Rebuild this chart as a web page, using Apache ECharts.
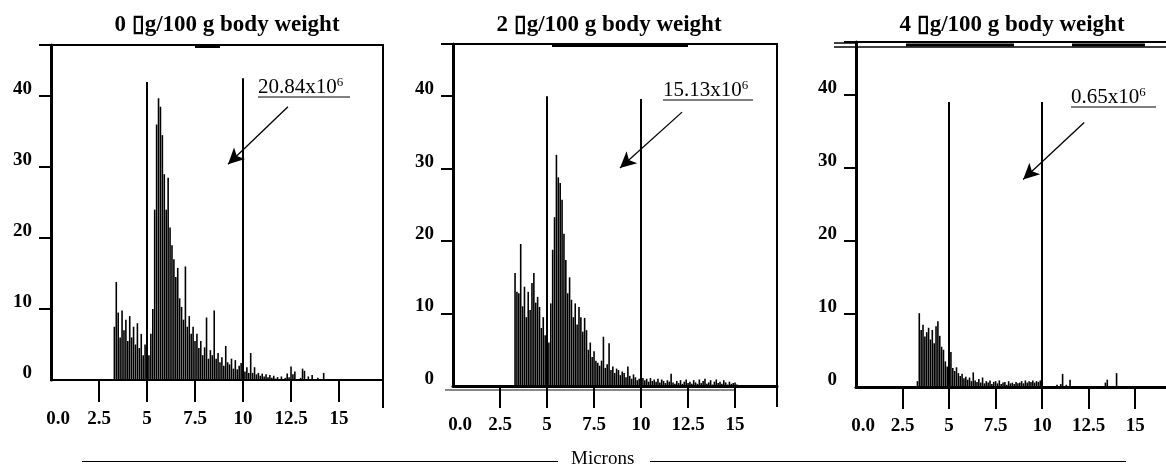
<!DOCTYPE html>
<html>
<head>
<meta charset="utf-8">
<script src="https://cdn.jsdelivr.net/npm/echarts@6/dist/echarts.min.js"></script>
<style>
  html, body { margin: 0; padding: 0; background: #fff; }
  #chart { width: 1166px; height: 467px; }
</style>
</head>
<body>
<div id="chart"></div>
<script>
// Cell size distributions (counts per 0.1-micron channel) for three doses.
const BIN_STEP = 0.1;

const panelTitles = [
  '0 \u25AFg/100 g body weight',
  '2 \u25AFg/100 g body weight',
  '4 \u25AFg/100 g body weight'
];
const cellTotals = ['20.84', '15.13', '0.65'];

const xTickValues = [2.5, 5, 7.5, 10, 12.5, 15];
const xLabelValues = [0, 2.5, 5, 7.5, 10, 12.5, 15];
const yLabelValues = [0, 10, 20, 30, 40];

// 0 ug dose, channels from 3.3 microns
const dose0Start = 3.3;
const dose0Counts = [
  7.5, 13.8, 9.5, 6.0, 9.8, 7.0, 8.5, 5.5, 9.0, 6.0,
  7.5, 5.0, 8.0, 4.5, 6.5, 3.5, 5.0, 2.5, 3.5, 6.5,
  10.0, 24.0, 36.0, 39.7, 38.5, 34.5, 29.0, 24.0, 28.5, 21.5,
  19.0, 17.0, 14.5, 15.8, 11.5, 10.3, 8.5, 16.0, 7.5, 9.0,
  6.5, 7.5, 5.5, 6.5, 4.5, 5.5, 3.5, 4.6, 8.8, 3.0,
  4.2, 3.5, 9.8, 3.0, 3.8, 2.5, 3.2, 2.0, 4.8, 2.5,
  2.2, 3.0, 1.6, 2.8, 1.5, 2.0, 2.4, 1.5, 1.2, 1.8,
  1.0, 3.8, 1.0, 1.8, 0.8, 1.0, 0.6, 0.9, 0.5, 0.8,
  0.4, 0.7, 0.3, 0.6, 0.2, 0.4, 0.0, 0.5, 0.0, 0.3,
  0.9, 0.4, 1.9, 0.8, 1.2, 0.0, 0.0, 0.3, 1.6, 1.3,
  0.0, 0.5, 0.0, 0.7, 0.0, 0.0, 0.3, 0.0, 0.0, 1.0
];

// 2 ug dose, channels from 3.3 microns
const dose2Start = 3.3;
const dose2Counts = [
  15.6, 13.0, 12.8, 19.6, 11.0, 13.7, 9.5, 13.0, 10.5, 14.2,
  15.6, 11.5, 12.3, 10.9, 8.0, 9.5, 7.0, 8.5, 6.0, 11.4,
  18.8, 23.3, 31.9, 28.8, 28.0, 25.7, 21.0, 17.4, 12.8, 15.0,
  11.9, 9.5, 11.4, 8.5, 10.9, 9.5, 7.5, 9.4, 7.7, 5.0,
  6.0, 4.0, 4.8, 3.5, 3.2, 2.8, 3.5, 6.8, 2.5, 3.0,
  5.9, 2.2, 2.7, 1.8, 2.4, 2.2, 1.5, 2.0, 1.8, 1.2,
  2.7, 1.4, 1.0, 1.6, 1.2, 0.8, 1.0, 0.9, 1.1, 0.8,
  1.0, 0.6, 1.1, 0.7, 0.9, 0.6, 1.0, 0.5, 0.9, 0.7,
  0.4, 0.8, 0.6, 1.7, 0.5, 0.3, 0.7, 0.4, 0.8, 0.3,
  0.6, 0.9, 0.4, 0.6, 0.3, 0.8, 0.5, 0.3, 0.9, 0.4,
  0.7, 1.0, 0.3, 0.5, 0.8, 0.2, 0.6, 0.9, 0.4, 0.6,
  0.3, 0.8, 0.5, 0.2, 0.6, 0.3, 0.4, 0.5, 0.2
];

// 4 ug dose, channels from 3.3 microns
const dose4Start = 3.3;
const dose4Counts = [
  0.8, 10.1, 7.8, 8.5, 6.9, 7.5, 8.1, 6.5, 7.8, 6.0,
  8.3, 9.0, 7.0, 5.5, 5.1, 3.5, 2.8, 3.0, 4.8, 2.6,
  2.2, 2.7, 1.9, 1.5, 1.8, 1.2, 1.4, 1.0, 1.3, 0.8,
  2.0, 0.9, 0.7, 1.1, 0.6, 1.3, 0.5, 0.8, 0.6, 0.9,
  0.4, 0.7, 0.8, 0.5, 0.9, 0.4, 0.6, 0.7, 0.3, 0.8,
  0.5, 0.6, 0.4, 0.7, 0.5, 0.6, 0.8, 0.5, 0.9, 0.6,
  0.8, 0.7, 0.9, 0.6, 0.8, 0.7, 0.9, 0.5, 0.0, 0.0,
  0.0, 0.0, 0.0, 0.0, 0.0, 0.3, 0.0, 0.4, 1.8, 0.0,
  0.3, 0.0, 1.0, 0.0, 0.0, 0.0, 0.0, 0.0, 0.0, 0.0,
  0.0, 0.0, 0.0, 0.0, 0.0, 0.0, 0.0, 0.0, 0.0, 0.0,
  0.0, 0.6, 1.0, 0.0, 0.0, 0.0, 0.0, 1.9
];

// Gate lines at 5 and 10 microns: [top at 5, top at 10] in count units
const gateTops = [[42, 42.5], [40, 39.6], [39, 39]];
// Arrow from the total label down into the gated region: [x0, y0, x1, y1]
const arrowCoords = [
  [12.34, 38.5, 9.22, 30.4],
  [12.18, 37.8, 8.88, 30.1],
  [12.26, 36.2, 8.98, 28.4]
];

const doseStarts = [dose0Start, dose2Start, dose4Start];
const doseCounts = [dose0Counts, dose2Counts, dose4Counts];

const SERIF = '"Liberation Serif", "Times New Roman", serif';

const grids = [
  { left: 51, top: 45, width: 332, height: 335, xMax: 17.29, titleX: 222 },
  { left: 453, top: 44, width: 324, height: 342, xMax: 17.23, titleX: 604 },
  { left: 856, top: 42, width: 322, height: 345, xMax: 17.3, titleX: 1007 }
];
const Y_MAX = 47.2;

function toPoints(start, counts) {
  return counts.map((v, i) => [Math.round((start + i * BIN_STEP) * 100) / 100, v]);
}

const chart = echarts.init(document.getElementById('chart'), null, { renderer: 'canvas' });

const option = {
  animation: false,
  backgroundColor: '#fff',
  title: grids.map((g, i) => ({
    text: panelTitles[i],
    left: g.titleX,
    top: 9,
    textAlign: 'center',
    textStyle: { fontFamily: SERIF, fontWeight: 'bold', fontSize: 23, color: '#000' }
  })),
  grid: grids.map(g => ({
    left: g.left, top: g.top, width: g.width, height: g.height,
    outerBoundsMode: 'none',
    containLabel: false,
    show: true, borderColor: '#000', borderWidth: 2, backgroundColor: 'transparent'
  })),
  xAxis: grids.map((g, i) => ({
    gridIndex: i,
    type: 'value',
    min: 0,
    max: g.xMax,
    axisLine: { show: true, onZero: false, lineStyle: { color: '#000', width: i === 0 ? 2 : 3 } },
    axisTick: { show: true, customValues: xTickValues, length: 22, lineStyle: { color: '#000', width: 2 } },
    axisLabel: {
      customValues: xLabelValues,
      margin: 30,
      color: '#000',
      fontFamily: SERIF,
      fontWeight: 'bold',
      fontSize: 19,
      formatter: v => (v === 0 ? '{z|0.0}' : String(v)),
      rich: {
        z: { fontFamily: SERIF, fontWeight: 'bold', fontSize: 19, color: '#000', padding: [0, 0, 0, 14] }
      }
    },
    splitLine: { show: false }
  })),
  yAxis: grids.map((g, i) => ({
    gridIndex: i,
    type: 'value',
    min: 0,
    max: Y_MAX,
    axisLine: { show: true, lineStyle: { color: '#000', width: 3 } },
    axisTick: { show: true, customValues: [10, 20, 30, 40, Y_MAX], length: 12, lineStyle: { color: '#000', width: 2 } },
    axisLabel: {
      customValues: yLabelValues,
      margin: 19,
      color: '#000',
      fontFamily: SERIF,
      fontWeight: 'bold',
      fontSize: 19,
      verticalAlign: 'bottom',
      lineHeight: 14
    },
    splitLine: { show: false }
  })),
  series: grids.map((g, i) => {
    const a = arrowCoords[i];
    return {
      type: 'bar',
      xAxisIndex: i,
      yAxisIndex: i,
      data: toPoints(doseStarts[i], doseCounts[i]),
      barWidth: 1.6,
      itemStyle: { color: '#000' },
      emphasis: { disabled: true },
      markLine: {
        silent: true,
        animation: false,
        symbol: ['none', 'none'],
        label: { show: false },
        lineStyle: { color: '#000', width: 2, type: 'solid' },
        data: [
          [{ coord: [5, 0] }, { coord: [5, gateTops[i][0]] }],
          [{ coord: [10, 0] }, { coord: [10, gateTops[i][1]] }],
          [
            { coord: [a[0], a[1]], symbol: 'none', lineStyle: { width: 1.3, color: '#000', type: 'solid' } },
            { coord: [a[2], a[3]], symbol: 'arrow', symbolSize: [12, 16] }
          ]
        ]
      }
    };
  }),
  graphic: []
};

// Total-count labels above each gate, underlined
const totalLabelPos = [
  { x: 258, y: 76, underY: 97, underX2: 350 },
  { x: 663, y: 79, underY: 100, underX2: 753 },
  { x: 1071, y: 86, underY: 107, underX2: 1156 }
];
totalLabelPos.forEach((p, i) => {
  option.graphic.push({
    type: 'text',
    left: p.x,
    top: p.y,
    style: {
      text: '{m|' + cellTotals[i] + 'x10}{s|6}',
      rich: {
        m: { fontFamily: SERIF, fontSize: 21, fill: '#000', lineHeight: 22 },
        s: { fontFamily: SERIF, fontSize: 13, fill: '#000', verticalAlign: 'top', lineHeight: 22 }
      }
    }
  });
  option.graphic.push({
    type: 'line',
    shape: { x1: p.x, y1: p.underY, x2: p.underX2, y2: p.underY },
    style: { stroke: '#000', lineWidth: 1 }
  });
});

// Shared x-axis title with rules on both sides
option.graphic.push(
  {
    type: 'text', left: 571, top: 450,
    style: { text: 'Microns', fontFamily: SERIF, fontSize: 19, fill: '#000' }
  },
  { type: 'line', shape: { x1: 82, y1: 461.5, x2: 558, y2: 461.5 }, style: { stroke: '#000', lineWidth: 1 } },
  { type: 'line', shape: { x1: 650, y1: 461.5, x2: 1126, y2: 461.5 }, style: { stroke: '#000', lineWidth: 1 } },
  // frame edges running past the baseline
  { type: 'line', shape: { x1: 383, y1: 380, x2: 383, y2: 408 }, style: { stroke: '#000', lineWidth: 2 } },
  { type: 'line', shape: { x1: 777, y1: 386, x2: 777, y2: 407 }, style: { stroke: '#000', lineWidth: 2 } },
  { type: 'line', shape: { x1: 834, y1: 43, x2: 856, y2: 43 }, style: { stroke: '#000', lineWidth: 1.5 } },
  { type: 'line', shape: { x1: 834, y1: 47, x2: 1166, y2: 47 }, style: { stroke: '#000', lineWidth: 1.5 } },
  // heavier stretches along the top frames
  { type: 'line', shape: { x1: 195, y1: 46.5, x2: 220, y2: 46.5 }, style: { stroke: '#000', lineWidth: 3 } },
  { type: 'line', shape: { x1: 552, y1: 45.5, x2: 688, y2: 45.5 }, style: { stroke: '#000', lineWidth: 3 } },
  { type: 'line', shape: { x1: 906, y1: 45, x2: 1014, y2: 45 }, style: { stroke: '#000', lineWidth: 3 } },
  { type: 'line', shape: { x1: 1072, y1: 45, x2: 1145, y2: 45 }, style: { stroke: '#000', lineWidth: 3 } },
  // grey under-rule beneath the middle baseline
  { type: 'line', shape: { x1: 445, y1: 390, x2: 735, y2: 390 }, style: { stroke: '#888', lineWidth: 2 } }
);

chart.setOption(option);
</script>
</body>
</html>
